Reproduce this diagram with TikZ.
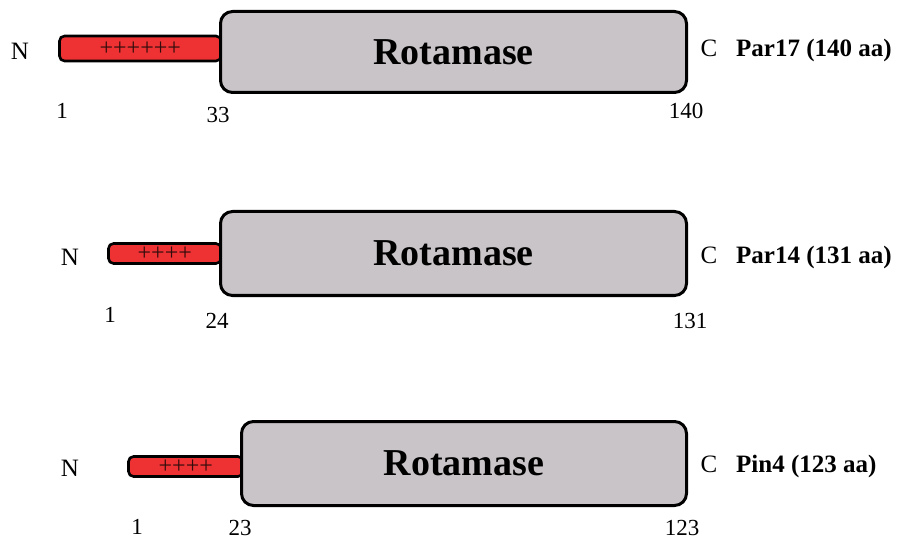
\documentclass[tikz,border=0pt]{standalone}
\usepackage{fontspec}
\setmainfont{Liberation Serif}
\definecolor{domgray}{RGB}{201,196,199}
\definecolor{tailred}{RGB}{238,50,52}
\definecolor{plusink}{RGB}{50,12,12}
\begin{document}
\begin{tikzpicture}[x=1pt,y=-1pt,
  tailbar/.style={draw=black, line width=2.6pt, fill=tailred, rounded corners=5pt,
    inner sep=0pt, text=plusink, font=\fontsize{24}{24}\selectfont},
  rotbox/.style={draw=black, line width=3pt, fill=domgray, rounded corners=12pt,
    inner sep=0pt, font=\bfseries\fontsize{38}{38}\selectfont},
  lbl/.style={inner sep=0pt, font=\fontsize{23}{23}\selectfont},
  endlbl/.style={inner sep=0pt, font=\fontsize{25}{25}\selectfont},
  prot/.style={inner sep=0pt, anchor=base west, font=\bfseries\fontsize{25}{25}\selectfont}]
\useasboundingbox (0,0) rectangle (900,540);

% Par17
\node[tailbar, minimum width=161.5, minimum height=25] (t1) at (140.25,48.5) {++++++};
\node[rotbox, minimum width=466, minimum height=81] (d1) at (453.5,52) {Rotamase};
\node[endlbl] (n1) at (20,51) {N};
\node[endlbl, anchor=base] (c1) at (709,57) {C};
\node[prot] (p1) at (736,57) {Par17 (140 aa)};
\node[lbl] (a1) at (62,111) {1};
\node[lbl] (b1) at (218,115) {33};
\node[lbl] (e1) at (686,110.5) {140};

% Par14
\node[tailbar, minimum width=112.5, minimum height=20] (t2) at (164.75,253.5) {++++};
\node[rotbox, minimum width=466, minimum height=84] (d2) at (453.5,253.5) {Rotamase};
\node[endlbl] (n2) at (70,257) {N};
\node[endlbl, anchor=base] (c2) at (709,264) {C};
\node[prot] (p2) at (736,264) {Par14 (131 aa)};
\node[lbl] (a2) at (110,314.5) {1};
\node[lbl] (b2) at (217,321) {24};
\node[lbl] (e2) at (690,320.5) {131};

% Pin4
\node[tailbar, minimum width=114.5, minimum height=20] (t3) at (185.75,466.5) {++++};
\node[rotbox, minimum width=445, minimum height=84] (d3) at (464,463.5) {Rotamase};
\node[endlbl] (n3) at (70,468) {N};
\node[endlbl, anchor=base] (c3) at (709,472) {C};
\node[prot] (p3) at (736,472) {Pin4 (123 aa)};
\node[lbl] (a3) at (137,527) {1};
\node[lbl] (b3) at (240,528) {23};
\node[lbl] (e3) at (682,528) {123};
\end{tikzpicture}
\end{document}
